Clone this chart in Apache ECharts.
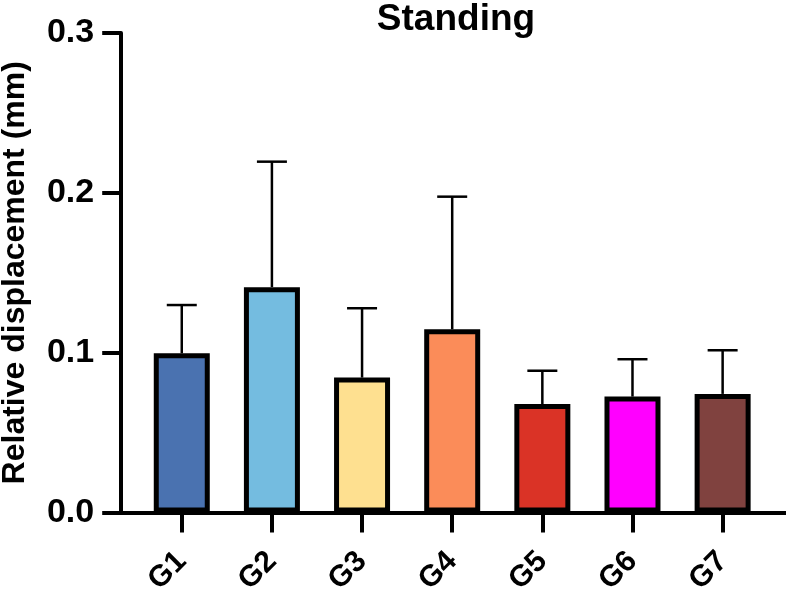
<!DOCTYPE html>
<html>
<head>
<meta charset="utf-8">
<script src="https://cdn.jsdelivr.net/npm/echarts@6/dist/echarts.min.js"></script>
<style>
  html, body { margin: 0; padding: 0; background: #fff; }
  #chart { width: 786px; height: 593px; }
</style>
</head>
<body>
<div id="chart"></div>
<script>
// data
var groups = ['G1', 'G2', 'G3', 'G4', 'G5', 'G6', 'G7'];
var means = [0.0996, 0.141, 0.0844, 0.1146, 0.0679, 0.0725, 0.0742];
var sds = [0.0302, 0.0785, 0.0434, 0.083, 0.0208, 0.0234, 0.0273];
var barColors = ['#4A72B0', '#74BCE0', '#FEE090', '#FB8C59', '#DA3326', '#FF00FF', '#80423F'];
var yTicks = [0, 0.1, 0.2, 0.3];

var FONT = 'Arial, "Liberation Sans", Helvetica, sans-serif';

var myChart = echarts.init(document.getElementById('chart'));

var errData = groups.map(function (g, i) {
    return [i, means[i], means[i] + sds[i]];
});

var option = {
    animation: false,
    title: {
        text: 'Standing',
        left: 451,
        textAlign: 'center',
        top: -4,
        textStyle: { fontFamily: FONT, fontWeight: 'bold', fontSize: 37, color: '#000' }
    },
    grid: [
        { left: 136.7, right: 18.3, top: 33, bottom: 80.5, outerBoundsMode: 'none', containLabel: false },
        // only used for the long baseline under the bars
        { left: 119.5, right: 0, top: 33, bottom: 80.5, outerBoundsMode: 'none', containLabel: false }
    ],
    xAxis: [{
        gridIndex: 0,
        type: 'category',
        data: groups,
        axisLine: { show: false },
        axisTick: { show: true, alignWithLabel: true, length: 20, lineStyle: { color: '#000', width: 4 } },
        axisLabel: {
            rotate: 45,
            margin: 44,
            color: '#000',
            fontFamily: FONT,
            fontWeight: 'bold',
            fontSize: 30
        }
    }, {
        gridIndex: 1,
        type: 'value',
        min: 0,
        max: 1,
        axisLine: { show: true, lineStyle: { color: '#000', width: 4 } },
        axisTick: { show: false },
        axisLabel: { show: false },
        splitLine: { show: false }
    }],
    yAxis: [{
        gridIndex: 0,
        type: 'value',
        min: yTicks[0],
        max: yTicks[yTicks.length - 1],
        interval: 0.1,
        offset: 15.5,
        name: 'Relative displacement (mm)',
        nameLocation: 'middle',
        nameGap: 90,
        nameTextStyle: { fontFamily: FONT, fontWeight: 'bold', fontSize: 32, color: '#000' },
        axisLine: { show: true, lineStyle: { color: '#000', width: 4 } },
        axisTick: { show: true, length: 19, lineStyle: { color: '#000', width: 4 } },
        axisLabel: {
            margin: 27,
            color: '#000',
            fontFamily: FONT,
            fontWeight: 'bold',
            fontSize: 34,
            formatter: function (v) { return v.toFixed(1); }
        },
        splitLine: { show: false }
    }, {
        gridIndex: 1,
        type: 'value',
        show: false
    }],
    series: [{
        name: 'mean',
        type: 'bar',
        xAxisIndex: 0,
        yAxisIndex: 0,
        barWidth: 56,
        data: means.map(function (v, i) {
            return {
                value: v,
                itemStyle: { color: barColors[i], borderColor: '#000', borderWidth: 5 }
            };
        }),
        z: 3
    }, {
        name: 'sd',
        type: 'custom',
        xAxisIndex: 0,
        yAxisIndex: 0,
        data: errData,
        z: 2,
        renderItem: function (params, api) {
            var lo = api.coord([api.value(0), api.value(1)]);
            var hi = api.coord([api.value(0), api.value(2)]);
            var half = 15;
            var st = { stroke: '#000', lineWidth: 2.5 };
            return {
                type: 'group',
                children: [{
                    type: 'line',
                    shape: { x1: lo[0], y1: lo[1], x2: hi[0], y2: hi[1] },
                    style: st
                }, {
                    type: 'line',
                    shape: { x1: hi[0] - half, y1: hi[1], x2: hi[0] + half, y2: hi[1] },
                    style: st
                }]
            };
        }
    }]
};

myChart.setOption(option);
</script>
</body>
</html>
